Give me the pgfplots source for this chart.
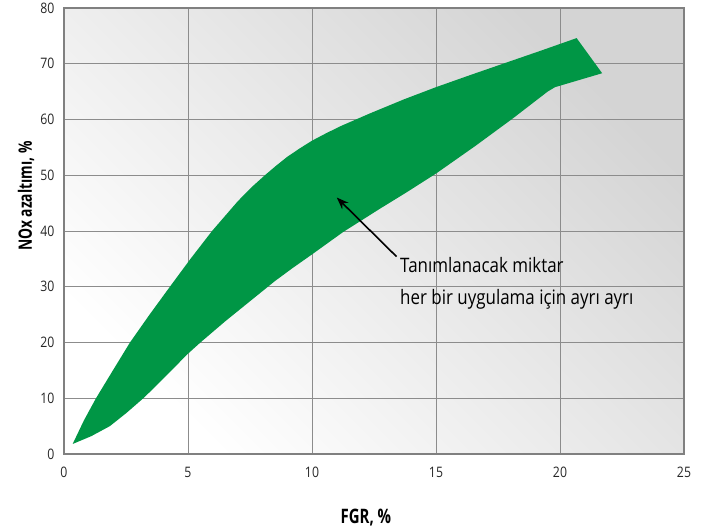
\documentclass[border=0pt]{standalone}
\usepackage{fontspec}
\setmainfont{Open Sans}[FakeStretch=0.85]
\newfontfamily\condfont{Open Sans}[FakeStretch=0.75]
\usepackage{pgfplots}
\pgfplotsset{compat=1.18}
\usetikzlibrary{arrows.meta}
\definecolor{fillgreen}{RGB}{0,150,69}
\begin{document}
\begin{tikzpicture}
\begin{axis}[
  scale only axis, width=620bp, height=446bp,
  xmin=0, xmax=25, ymin=0, ymax=80,
  xtick={0,5,...,25}, ytick={0,10,...,80},
  grid=major, major grid style={color=black!45, line width=0.9bp},
  axis line style={color=black!50, line width=1.3bp},
  major tick length=0pt,
  tick label style={font=\fontsize{14.5}{16}\selectfont, text=black!85},
  /pgf/number format/assume math mode=true,
  xticklabel style={yshift=-10bp},
  yticklabel style={xshift=-6bp},
  axis background/.style={bottom color=white, top color=black!17, shading angle=-45},
  xlabel={FGR, \%}, ylabel={NOx azaltımı, \%},
  xlabel style={font=\condfont\bfseries\fontsize{20}{22}\selectfont,
    at={(axis description cs:0.487,-0.155)}, anchor=base},
  ylabel style={font=\condfont\bfseries\fontsize{18.5}{20}\selectfont,
    at={(axis description cs:-0.061,0.578)}, anchor=center},
]
\addplot[fill=fillgreen, draw=none] coordinates {
 (0.35,1.8) (0.8,6) (1.29,10) (2.0,15.2) (2.66,20) (3.45,25) (4.27,30)
 (5.1,35) (5.97,40) (7.0,45.3) (7.55,47.8) (8.1,50) (8.55,51.7) (9.0,53.3)
 (9.5,54.8) (10,56.2) (10.6,57.6) (11.2,58.9) (12.34,61.1) (13.7,63.6)
 (15,65.8) (16.4,68) (17.7,70) (19.2,72.3)
 (20.67,74.6) (21.7,68.3) (19.8,65.8) (19.5,65.0) (18.1,60.2) (16.6,55.3)
 (15,50.3) (13.8,46.9) (12.74,44.0) (11.25,39.8) (10,35.8) (9.2,33.3) (8.5,31.0)
 (7.5,27.4) (6.5,23.8) (5.5,20) (5.0,18.0) (4.4,15.3) (3.8,12.6)
 (3.2,10) (2.5,7.3) (1.85,5.0) (1.1,3.2)
} -- cycle;
\draw[-{Stealth[length=12bp,width=9bp]}, line width=1.6bp] (axis cs:13.41,35.4) -- (axis cs:11.0,46.0);
\node[anchor=base west, inner sep=0, font=\fontsize{20}{22}\selectfont] at (axis cs:13.55,32.47) {Tanımlanacak miktar};
\node[anchor=base west, inner sep=0, font=\fontsize{20}{22}\selectfont] at (axis cs:13.55,26.9) {her bir uygulama için ayrı ayrı};
\end{axis}
\pgfresetboundingbox
\path[use as bounding box] (current axis.south west) ++(-64bp,-75bp) rectangle ++(705bp,529bp);
\end{tikzpicture}
\end{document}
